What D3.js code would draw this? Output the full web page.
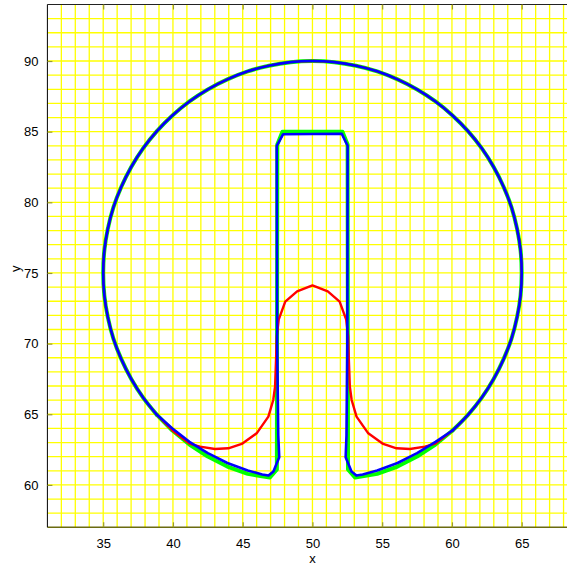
<!DOCTYPE html>
<html>
<head>
<meta charset="utf-8">
<script src="https://cdn.jsdelivr.net/npm/d3@7"></script>
<style>
  html, body { margin: 0; padding: 0; background: #fff; }
  svg { display: block; }
  text { font-family: "Liberation Sans", Arial, sans-serif; font-size: 13px; fill: #000; }
</style>
</head>
<body>
<script>
// Tick labels of the two axes
const xTicks = [35, 40, 45, 50, 55, 60, 65];
const yTicks = [60, 65, 70, 75, 80, 85, 90];

// Upper arc of the disk shared by all three contours (right side -> top -> left side)
const upperArc = [
  [60.04, 63.85], [61.15, 64.96], [62.14, 66.18], [62.99, 67.50], [63.70, 68.90],
  [64.27, 70.36], [64.67, 71.88], [64.92, 73.43], [65.00, 75.00], [64.92, 76.57],
  [64.67, 78.12], [64.27, 79.64], [63.70, 81.10], [62.99, 82.50], [62.14, 83.82],
  [61.15, 85.04], [60.04, 86.15], [58.82, 87.14], [57.50, 87.99], [56.10, 88.70],
  [54.64, 89.27], [53.12, 89.67], [51.57, 89.92], [50.00, 90.00], [48.43, 89.92],
  [46.88, 89.67], [45.36, 89.27], [43.90, 88.70], [42.50, 87.99], [41.18, 87.14],
  [39.96, 86.15], [38.85, 85.04], [37.86, 83.82], [37.01, 82.50], [36.30, 81.10],
  [35.73, 79.64], [35.33, 78.12], [35.08, 76.57], [35.00, 75.00], [35.08, 73.43],
  [35.33, 71.88], [35.73, 70.36], [36.30, 68.90], [37.01, 67.50], [37.86, 66.18],
  [38.85, 64.96]
];

// Initial slotted disk (green): lower left arc, slot, lower right arc
const exactLower = [
  [39.96, 63.85], [41.18, 62.86], [42.50, 62.01], [43.90, 61.30], [45.36, 60.78],
  [46.95, 60.52], [47.45, 61.10], [47.48, 84.10], [47.85, 85.00], [52.15, 85.00],
  [52.52, 84.10], [52.55, 61.10], [53.05, 60.52], [54.64, 60.78], [56.10, 61.30],
  [57.50, 62.01], [58.82, 62.86]
];

// Contour after rotation at coarse resolution (red): slot partially filled
const coarseLower = [
  [39.96, 63.85], [41.18, 62.92], [41.94, 62.71], [43.01, 62.54], [43.97, 62.59],
  [44.93, 62.90], [46.00, 63.65], [46.84, 64.83], [47.19, 66.01], [47.32, 66.95],
  [47.39, 68.84], [47.44, 70.49], [47.58, 71.70], [48.05, 72.97], [48.90, 73.70],
  [50.00, 74.12], [51.10, 73.70], [51.95, 72.97], [52.42, 71.70], [52.56, 70.49],
  [52.61, 68.84], [52.68, 66.95], [52.81, 66.01], [53.16, 64.83], [54.00, 63.65],
  [55.07, 62.90], [56.03, 62.59], [56.99, 62.54], [58.06, 62.71], [58.82, 62.92]
];

// Contour after rotation at fine resolution (blue)
const fineLower = [
  [39.96, 64.00], [41.18, 63.05], [42.50, 62.25], [43.90, 61.55], [45.36, 61.02],
  [46.40, 60.74], [46.85, 60.66], [47.20, 60.95], [47.62, 61.95], [47.55, 63.50],
  [47.47, 70.00], [47.44, 84.00], [47.90, 84.82], [52.10, 84.85], [52.52, 84.00],
  [52.50, 70.00], [52.44, 63.50], [52.38, 61.95], [52.80, 60.95], [53.15, 60.66],
  [53.60, 60.74], [54.64, 61.02], [56.10, 61.55], [57.50, 62.25], [58.82, 63.05]
];

const W = 567, H = 565;
const plotLeft = 47.4, plotTop = 4.5;
const x = d3.scaleLinear().domain([31, 69]).range([plotLeft, plotLeft + 38 * 13.95]);
const y = d3.scaleLinear().domain([57, 94]).range([plotTop + 37 * 14.13, plotTop]);
const plotBottom = y(57), plotRight = x(69);

const svg = d3.select("body").append("svg").attr("width", W).attr("height", H);
svg.append("rect").attr("width", W).attr("height", H).attr("fill", "#fff");

svg.append("defs").append("clipPath").attr("id", "plot")
  .append("rect").attr("x", plotLeft).attr("y", plotTop)
  .attr("width", plotRight - plotLeft).attr("height", plotBottom - plotTop);

// Unit grid
const grid = svg.append("g").attr("stroke", "#ffff00").attr("stroke-width", 1.3);
grid.selectAll("line.gx").data(d3.range(32, 69)).join("line")
  .attr("x1", d => x(d)).attr("x2", d => x(d)).attr("y1", plotTop).attr("y2", plotBottom);
grid.selectAll("line.gy").data(d3.range(58, 94)).join("line")
  .attr("y1", d => y(d)).attr("y2", d => y(d)).attr("x1", plotLeft).attr("x2", plotRight);

// Axes box
svg.append("line").attr("x1", plotLeft).attr("x2", plotRight).attr("y1", plotTop).attr("y2", plotTop)
  .attr("stroke", "#222").attr("stroke-width", 1);
svg.append("line").attr("x1", plotLeft).attr("x2", plotRight).attr("y1", plotBottom).attr("y2", plotBottom)
  .attr("stroke", "#6b6b10").attr("stroke-width", 1.6);
svg.append("line").attr("x1", plotLeft).attr("x2", plotLeft).attr("y1", plotTop).attr("y2", plotBottom)
  .attr("stroke", "#000").attr("stroke-width", 1);

// Inward tick marks and labels via d3 axes
const tickColor = "#9a9a30";
const xAxis = svg.append("g").attr("transform", `translate(0,${plotBottom})`)
  .call(d3.axisBottom(x).tickValues(xTicks).tickSize(-5).tickPadding(11).tickFormat(d3.format("d")));
const xAxisTop = svg.append("g").attr("transform", `translate(0,${plotTop})`)
  .call(d3.axisTop(x).tickValues(xTicks).tickSize(-5).tickFormat(""));
const yAxis = svg.append("g").attr("transform", `translate(${plotLeft},0)`)
  .call(d3.axisLeft(y).tickValues(yTicks).tickSize(-5).tickPadding(9).tickFormat(d3.format("d")));
[xAxis, xAxisTop, yAxis].forEach(g => {
  g.select(".domain").remove();
  g.selectAll(".tick line").attr("stroke", tickColor).attr("stroke-width", 1.2);
  g.selectAll("text").attr("font-size", 13).attr("font-family", "Liberation Sans, Arial, sans-serif").attr("fill", "#000");
});

svg.append("text").attr("x", x(50)).attr("y", 563).attr("text-anchor", "middle").text("x");
svg.append("text").attr("transform", `translate(20,${y(75.3)}) rotate(-90)`)
  .attr("text-anchor", "middle").text("y");

// Contours: smooth upper arc plus polyline lower part for each curve
const arcLine = d3.line().x(d => x(d[0])).y(d => y(d[1])).curve(d3.curveCatmullRom.alpha(0.5));
const polyLine = d3.line().x(d => x(d[0])).y(d => y(d[1]));
const plot = svg.append("g").attr("clip-path", "url(#plot)").attr("fill", "none")
  .attr("stroke-linejoin", "round").attr("stroke-linecap", "round");

function contour(lower, color, width) {
  const g = plot.append("g").attr("stroke", color).attr("stroke-width", width);
  g.append("path").attr("d", arcLine(upperArc));
  g.append("path").attr("d", polyLine([upperArc[upperArc.length - 1], ...lower, upperArc[0]]));
}
contour(exactLower, "#00ff00", 4);
contour(coarseLower, "#ff0000", 2.4);
contour(fineLower, "#0000ff", 2.6);
</script>
</body>
</html>
